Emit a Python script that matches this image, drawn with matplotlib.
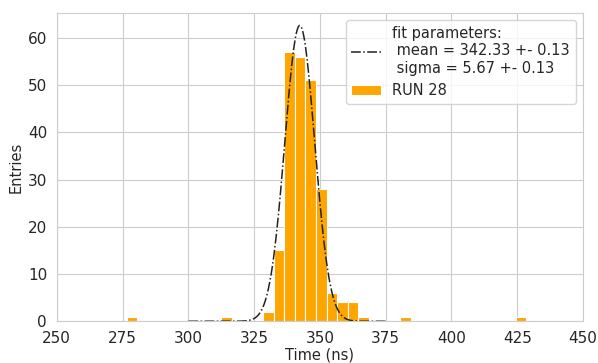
import numpy as np
import matplotlib.pyplot as plt
import seaborn as sns

sns.set_style('whitegrid')
plt.rcParams['font.size'] = 11

# histogram of the run (bins of 4 ns)
bin_width = 4.0
bin_lefts = [276.5, 312.5, 328.5, 332.5, 336.5, 340.5, 344.5, 348.5,
             352.5, 356.5, 360.5, 364.5, 380.5, 424.5]
counts = [1, 1, 2, 15, 57, 56, 51, 28, 6, 4, 4, 1, 1, 1]

# gaussian fit result
amp = 62.6
mean, mean_err = 342.33, 0.13
sigma, sigma_err = 5.67, 0.13

def gauss(x, a, mu, s):
    return a * np.exp(-(x - mu)**2 / (2 * s**2))

fig, ax = plt.subplots(figsize=(5.98, 3.63), dpi=100)
fig.subplots_adjust(left=0.095, right=0.975, top=0.965, bottom=0.115)

xs = np.linspace(300, 375, 400)
ax.plot(xs, gauss(xs, amp, mean, sigma), color='#222222', ls='-.', lw=1.1,
        label='fit parameters:\n mean = %.2f +- %.2f\n sigma = %.2f +- %.2f'
        % (mean, mean_err, sigma, sigma_err))
ax.bar(bin_lefts, counts, width=bin_width, align='edge', color='orange',
       edgecolor='white', linewidth=0.8, label='RUN 28')

ax.set_xlim(250, 450)
ax.set_ylim(0, 65.3)
ax.set_xticks(np.arange(250, 451, 25))
ax.tick_params(labelsize=11)
ax.set_xlabel('Time (ns)', fontsize=10.5, labelpad=1)
ax.set_ylabel('Entries', fontsize=10.5, labelpad=3)
ax.legend(loc='upper right', fontsize=10.5)

fig.savefig('out.png')
